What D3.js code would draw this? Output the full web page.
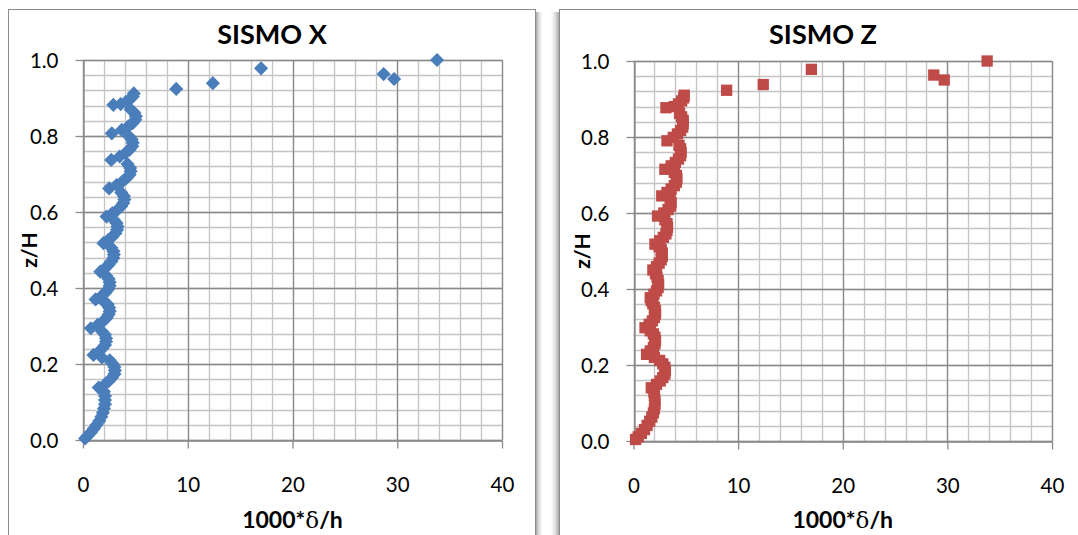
<!DOCTYPE html>
<html>
<head>
<meta charset="utf-8">
<script src="https://cdn.jsdelivr.net/npm/d3@7"></script>
<style>
  html, body { margin: 0; padding: 0; background: #ffffff; }
  svg { display: block; }
</style>
</head>
<body>
<script>
// ---------------- DATA ----------------
const xTicks = [0, 10, 20, 30, 40];
const yTicks = [0.0, 0.2, 0.4, 0.6, 0.8, 1.0];
const titles = ["SISMO X", "SISMO Z"];
const xAxisTitle = "1000*δ/h";
const yAxisTitle = "z/H";

// SISMO X : drift (1000*δ/h)
const driftX = [
  0.2, 0.45, 0.75, 1.05, 1.3, 1.55, 1.75, 1.9, 2.0, 2.1, 2.1, 2.1, 2.0,
  1.5,
  2.1, 2.5, 2.8, 3.0, 3.05, 3.0, 2.8, 2.55, 1.8,
  1.0,
  1.5, 1.85, 2.1, 2.2, 2.2, 2.1, 1.8,
  0.75,
  1.4, 1.9, 2.25, 2.45, 2.55, 2.5, 2.35, 2.0,
  1.2,
  1.75, 2.15, 2.4, 2.55, 2.55, 2.45, 2.2,
  1.65,
  2.1, 2.45, 2.7, 2.9, 2.95, 2.9, 2.7,
  1.95,
  2.4, 2.8, 3.1, 3.25, 3.3, 3.2, 2.95,
  2.25,
  2.8, 3.3, 3.65, 3.85, 3.95, 3.9, 3.65,
  2.5,
  3.2, 3.75, 4.15, 4.45, 4.55, 4.5, 4.25,
  2.7,
  3.5, 4.05, 4.45, 4.7, 4.75, 4.65, 4.4,
  2.75,
  3.7, 4.3, 4.75, 5.0, 5.05, 4.9, 4.55,
  2.9,
  3.6, 4.1, 4.5, 4.75, 4.85,
  8.9, 12.4, 29.7, 28.7, 17.0, 33.8
];
// SISMO X : z/H
const heightX = [
  0.004, 0.011, 0.020, 0.030, 0.040, 0.050, 0.061, 0.072, 0.083, 0.094, 0.105, 0.116, 0.127,
  0.138,
  0.147, 0.156, 0.165, 0.174, 0.183, 0.192, 0.201, 0.210, 0.217,
  0.224,
  0.232, 0.241, 0.250, 0.259, 0.268, 0.277, 0.286,
  0.294,
  0.303, 0.312, 0.321, 0.330, 0.339, 0.348, 0.357, 0.364,
  0.370,
  0.379, 0.388, 0.397, 0.406, 0.415, 0.424, 0.433,
  0.443,
  0.452, 0.461, 0.470, 0.479, 0.488, 0.497, 0.506,
  0.518,
  0.526, 0.535, 0.544, 0.553, 0.562, 0.571, 0.579,
  0.588,
  0.597, 0.606, 0.615, 0.624, 0.633, 0.642, 0.651,
  0.662,
  0.671, 0.680, 0.689, 0.698, 0.707, 0.716, 0.726,
  0.737,
  0.746, 0.755, 0.764, 0.773, 0.782, 0.791, 0.799,
  0.807,
  0.816, 0.825, 0.834, 0.843, 0.852, 0.861, 0.870,
  0.882,
  0.884, 0.890, 0.897, 0.904, 0.912,
  0.924, 0.939, 0.950, 0.963, 0.978, 1.000
];

// SISMO Z : drift (1000*δ/h)
const driftZ = [
  0.2, 0.45, 0.75, 1.05, 1.3, 1.55, 1.75, 1.9, 2.0, 2.05, 2.05, 2.0, 1.95,
  1.7,
  2.2, 2.55, 2.8, 3.0, 3.05, 3.0, 2.8, 2.5, 2.0,
  1.25,
  1.6, 1.9, 2.05, 2.1, 2.05, 1.9, 1.6,
  1.1,
  1.5, 1.8, 2.0, 2.1, 2.1, 2.0, 1.85, 1.7,
  1.6,
  1.95, 2.2, 2.35, 2.4, 2.35, 2.25, 2.1,
  1.85,
  2.2, 2.45, 2.65, 2.75, 2.75, 2.65, 2.45,
  2.05,
  2.5, 2.85, 3.1, 3.2, 3.25, 3.2, 3.0,
  2.3,
  2.9, 3.3, 3.55, 3.6, 3.5,
  2.7,
  3.2, 3.6, 3.9, 4.1, 4.15, 4.1, 3.9,
  3.0,
  3.6, 4.0, 4.3, 4.5, 4.55, 4.5, 4.35,
  3.2,
  3.8, 4.2, 4.5, 4.7, 4.75, 4.75, 4.6, 4.4,
  3.1,
  3.9, 4.3, 4.6, 4.8, 4.85,
  8.9, 12.4, 29.7, 28.7, 17.0, 33.8
];
// SISMO Z : z/H
const heightZ = [
  0.004, 0.011, 0.020, 0.030, 0.041, 0.052, 0.063, 0.074, 0.085, 0.096, 0.107, 0.118, 0.129,
  0.140,
  0.149, 0.158, 0.167, 0.176, 0.185, 0.194, 0.203, 0.212, 0.220,
  0.228,
  0.237, 0.246, 0.255, 0.264, 0.273, 0.282, 0.290,
  0.298,
  0.307, 0.316, 0.325, 0.334, 0.343, 0.352, 0.361, 0.369,
  0.377,
  0.386, 0.395, 0.404, 0.413, 0.422, 0.431, 0.440,
  0.450,
  0.459, 0.468, 0.477, 0.486, 0.495, 0.504, 0.511,
  0.518,
  0.527, 0.536, 0.545, 0.554, 0.563, 0.572, 0.582,
  0.592,
  0.600, 0.609, 0.618, 0.627, 0.636,
  0.645,
  0.654, 0.663, 0.672, 0.681, 0.690, 0.699, 0.707,
  0.715,
  0.724, 0.733, 0.742, 0.751, 0.760, 0.769, 0.778,
  0.790,
  0.799, 0.808, 0.817, 0.826, 0.835, 0.844, 0.853, 0.862,
  0.877,
  0.880, 0.887, 0.895, 0.903, 0.910,
  0.923, 0.938, 0.950, 0.963, 0.978, 1.000
];

// ---------------- DRAW ----------------
const W = 1078, H = 535;
const FONT = "Lato, 'Open Sans', 'Noto Sans', sans-serif";
const svg = d3.select("body").append("svg").attr("width", W).attr("height", H);

const defs = svg.append("defs");
const g1 = defs.append("linearGradient").attr("id", "shR").attr("x1", 0).attr("x2", 1);
g1.append("stop").attr("offset", 0).attr("stop-color", "#9a9a9a").attr("stop-opacity", 0.9);
g1.append("stop").attr("offset", 1).attr("stop-color", "#ffffff").attr("stop-opacity", 0);
const g2 = defs.append("linearGradient").attr("id", "shL").attr("x1", 1).attr("x2", 0);
g2.append("stop").attr("offset", 0).attr("stop-color", "#9a9a9a").attr("stop-opacity", 0.9);
g2.append("stop").attr("offset", 1).attr("stop-color", "#ffffff").attr("stop-opacity", 0);

// shadows between charts
svg.append("rect").attr("x", 536).attr("y", 12).attr("width", 8).attr("height", H).attr("fill", "url(#shR)");
svg.append("rect").attr("x", 549).attr("y", 12).attr("width", 10).attr("height", H).attr("fill", "url(#shL)");

// chart frames
svg.append("rect").attr("x", 8.5).attr("y", 9.5).attr("width", 527).attr("height", 600)
  .attr("fill", "#fff").attr("stroke", "#8c8c8c").attr("stroke-width", 1);
svg.append("rect").attr("x", 559.5).attr("y", 9.5).attr("width", 560).attr("height", 600)
  .attr("fill", "#fff").attr("stroke", "#8c8c8c").attr("stroke-width", 1);

const charts = [
  { title: titles[0], cx: 272, x0: 83, x1: 502, yT: 60, yB: 440, drift: driftX, z: heightX,
    color: "#4a7ebb", marker: "diamond", yLab: 30 },
  { title: titles[1], cx: 823, x0: 633.5, x1: 1052, yT: 61, yB: 441, drift: driftZ, z: heightZ,
    color: "#be4b48", marker: "square", yLab: 583 }
];

charts.forEach(c => {
  const g = svg.append("g");
  const x = d3.scaleLinear().domain([xTicks[0], xTicks[xTicks.length - 1]]).range([c.x0, c.x1]);
  const y = d3.scaleLinear().domain([yTicks[0], yTicks[yTicks.length - 1]]).range([c.yB, c.yT]);

  // minor grid
  const minorX = d3.range(0, 40.001, 2);
  const minorY = d3.range(0, 1.0001, 0.04);
  g.append("g").selectAll("line").data(minorX).join("line")
    .attr("x1", d => Math.round(x(d)) + 0.5).attr("x2", d => Math.round(x(d)) + 0.5)
    .attr("y1", c.yT).attr("y2", c.yB).attr("stroke", "#c4c4c4").attr("stroke-width", 1.3);
  g.append("g").selectAll("line").data(minorY).join("line")
    .attr("y1", d => Math.round(y(d)) + 0.5).attr("y2", d => Math.round(y(d)) + 0.5)
    .attr("x1", c.x0).attr("x2", c.x1).attr("stroke", "#c4c4c4").attr("stroke-width", 1.3);
  // major grid
  g.append("g").selectAll("line").data(xTicks).join("line")
    .attr("x1", d => Math.round(x(d)) + 0.5).attr("x2", d => Math.round(x(d)) + 0.5)
    .attr("y1", c.yT).attr("y2", c.yB).attr("stroke", "#8a8a8a").attr("stroke-width", 1.3);
  g.append("g").selectAll("line").data(yTicks).join("line")
    .attr("y1", d => Math.round(y(d)) + 0.5).attr("y2", d => Math.round(y(d)) + 0.5)
    .attr("x1", c.x0).attr("x2", c.x1).attr("stroke", "#8a8a8a").attr("stroke-width", 1.3);

  // axes
  const ax = g.append("g").attr("transform", `translate(0,${Math.round(c.yB) + 0.5})`)
    .call(d3.axisBottom(x).tickValues(xTicks).tickSize(8).tickSizeOuter(0).tickPadding(28).tickFormat(d3.format("d")));
  const ay = g.append("g").attr("transform", `translate(${Math.round(c.x0) + 0.5},0)`)
    .call(d3.axisLeft(y).tickValues(yTicks).tickSize(8).tickSizeOuter(0).tickPadding(17).tickFormat(d3.format(".1f")));
  [ax, ay].forEach(a => {
    a.select(".domain").attr("stroke", "#8a8a8a").attr("stroke-width", 1.3);
    a.selectAll(".tick line").attr("stroke", "#8a8a8a").attr("stroke-width", 1.3);
    a.selectAll(".tick text").attr("font-family", FONT).attr("font-size", 20.5).attr("fill", "#000");
  });
  ax.selectAll(".tick text").attr("dy", "0.75em");
  ay.selectAll(".tick text").attr("dy", "0.36em");

  // markers
  const pts = c.drift.map((v, i) => ({ v, z: c.z[i] }));
  const sym = c.marker === "diamond" ? d3.symbol().type(d3.symbolSquare).size(100)
                                      : d3.symbol().type(d3.symbolSquare).size(128);
  g.append("g").selectAll("path").data(pts).join("path")
    .attr("d", sym)
    .attr("transform", d => `translate(${x(d.v)},${y(d.z)})` + (c.marker === "diamond" ? " rotate(45)" : ""))
    .attr("fill", c.color);

  // title
  g.append("text").attr("x", c.cx).attr("y", 44).attr("text-anchor", "middle")
    .attr("font-family", FONT).attr("font-weight", "bold").attr("font-size", 27).text(c.title);

  // x axis title
  const xt = g.append("text").attr("x", (c.x0 + c.x1) / 2).attr("y", 528).attr("text-anchor", "middle")
    .attr("font-family", FONT).attr("font-weight", "bold").attr("font-size", 23);
  const parts = xAxisTitle.split("δ");
  xt.append("tspan").text(parts[0]);
  xt.append("tspan").attr("font-family", "'DejaVu Serif', 'Liberation Serif', serif").attr("font-weight", "normal").text("δ");
  xt.append("tspan").text(parts[1]);

  // y axis title
  g.append("text").attr("transform", `translate(${c.yLab + 7},${(c.yT + c.yB) / 2}) rotate(-90)`)
    .attr("text-anchor", "middle").attr("font-family", FONT).attr("font-weight", "bold").attr("font-size", 21)
    .text(yAxisTitle);
});
</script>
</body>
</html>
